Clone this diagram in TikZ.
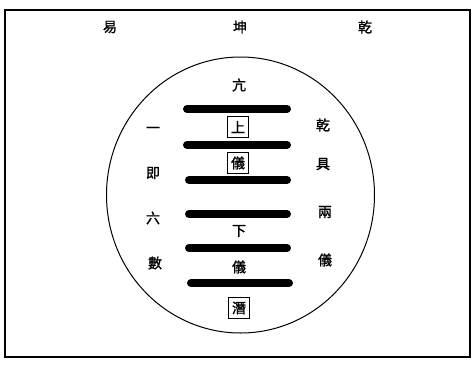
\documentclass[tikz,border=0pt]{standalone}
\usepackage{fontspec}
\newfontfamily\cjk{Noto Sans CJK TC}[FakeBold=1.5]
\begin{document}
\begin{tikzpicture}[x=1pt,y=-1pt,
  ch/.style={font=\cjk\fontsize{14}{14}\selectfont, inner sep=0pt},
  boxch/.style={ch, draw, line width=1.2pt, minimum width=21pt, minimum height=21pt},
  bar/.style={line width=8pt, line cap=round}]
\useasboundingbox (0,0) rectangle (475,365);
% frame
\draw[line width=1.4pt] (5,10) rectangle (470,357);
\draw[line width=2.2pt] (5,10) -- (470,10);
% title (read right to left)
\node[ch] (t1) at (365,27) {乾};
\node[ch] (t2) at (240,27) {坤};
\node[ch] (t3) at (110,27) {易};
% circle
\draw[line width=1pt] (240.5,195) ellipse [x radius=134, y radius=138];
% bars
\foreach \y/\a/\b in {109/187/287, 145/187/287, 180/189/287, 214/189/287, 248/189/287, 283/191/289}
  \draw[bar] (\a,\y) -- (\b,\y);
% central labels
\node[ch] (c1) at (239,85) {亢};
\node[boxch] (c2) at (238,127) {上};
\node[boxch] (c3) at (238,163) {儀};
\node[ch] (c4) at (239,231) {下};
\node[ch] (c5) at (239,267) {儀};
\node[boxch] (c6) at (239,308) {潛};
% left column
\node[ch] (l1) at (153,130) {一};
\node[ch] (l2) at (153,173) {即};
\node[ch] (l3) at (153,218) {六};
\node[ch] (l4) at (155,263) {數};
% right column
\node[ch] (r1) at (323,125) {乾};
\node[ch] (r2) at (323,164) {具};
\node[ch] (r3) at (325,212) {兩};
\node[ch] (r4) at (325,260) {儀};
\end{tikzpicture}
\end{document}
